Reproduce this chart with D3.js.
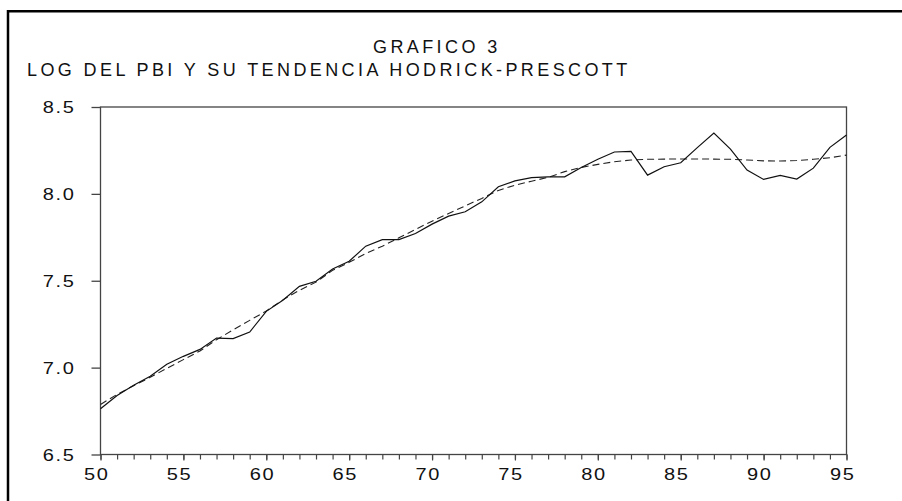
<!DOCTYPE html>
<html>
<head>
<meta charset="utf-8">
<script src="https://cdn.jsdelivr.net/npm/d3@7"></script>
<style>
  html, body { margin: 0; padding: 0; background: #fff; }
  svg { display: block; }
  text { font-family: "Liberation Sans", Arial, Helvetica, sans-serif; fill: #111; }
</style>
</head>
<body>
<svg id="chart" width="902" height="501"></svg>
<script>
// ---- data ----
const years = d3.range(1950, 1996);
const logPBI = [
  6.763, 6.840, 6.898, 6.950, 7.019, 7.065, 7.105, 7.170, 7.167, 7.205,
  7.324, 7.388, 7.468, 7.497, 7.568, 7.612, 7.699, 7.737, 7.737, 7.772,
  7.826, 7.872, 7.897, 7.954, 8.041, 8.075, 8.093, 8.098, 8.098, 8.152,
  8.199, 8.241, 8.245, 8.108, 8.156, 8.179, 8.266, 8.350, 8.258, 8.137,
  8.083, 8.106, 8.085, 8.148, 8.268, 8.339
];
const trendHP = [
  6.788, 6.846, 6.896, 6.944, 6.996, 7.046, 7.096, 7.161, 7.217, 7.272,
  7.326, 7.390, 7.445, 7.492, 7.560, 7.606, 7.657, 7.699, 7.747, 7.795,
  7.843, 7.887, 7.931, 7.974, 8.020, 8.050, 8.073, 8.095, 8.128, 8.152,
  8.170, 8.185, 8.195, 8.199, 8.200, 8.201, 8.201, 8.200, 8.199, 8.195,
  8.190, 8.189, 8.192, 8.199, 8.208, 8.223
];
const yTicks = [6.5, 7.0, 7.5, 8.0, 8.5];
const xTicksMajor = [1950, 1955, 1960, 1965, 1970, 1975, 1980, 1985, 1990, 1995];
const titleLines = ["GRAFICO 3", "LOG DEL PBI Y SU TENDENCIA HODRICK-PRESCOTT"];

// ---- layout ----
const svg = d3.select("#chart");
const L = 100.5, R = 846.5, T = 107, B = 454.5;
const SX = 1.25; // horizontal stretch of tick-label glyphs

const x = d3.scaleLinear().domain([1950, 1995]).range([L, R]);
const y = d3.scaleLinear().domain([6.5, 8.5]).range([B, T]);

// outer frame (open on right/bottom, extends beyond view)
svg.append("path")
  .attr("d", `M8,510 L8,11.3 L910,11.3`)
  .attr("fill", "none").attr("stroke", "#000").attr("stroke-width", 2.5);

// titles
svg.append("text").attr("x", 373).attr("y", 53)
  .attr("font-size", 18).attr("letter-spacing", 3.4).text(titleLines[0]);
svg.append("text").attr("x", 27).attr("y", 76)
  .attr("font-size", 18).attr("letter-spacing", 3.4).text(titleLines[1]);

// plot box
svg.append("rect").attr("x", L).attr("y", T).attr("width", R - L).attr("height", B - T)
  .attr("fill", "none").attr("stroke", "#444").attr("stroke-width", 1.3);

// y axis
const yAxis = d3.axisLeft(y).tickValues(yTicks).tickSize(9).tickPadding(0)
  .tickFormat(d3.format(".1f"));
const gy = svg.append("g").attr("transform", `translate(${L},0)`).call(yAxis);
gy.select(".domain").remove();
gy.selectAll(".tick line").attr("stroke", "#444").attr("stroke-width", 1.3);
gy.selectAll(".tick text")
  .attr("x", -25 / SX).attr("dy", "0.36em")
  .attr("transform", `scale(${SX},1)`)
  .attr("font-size", 16).attr("letter-spacing", 1.3)
  .attr("fill", "#111");

// x axis: minor ticks every year
const xAxisMinor = d3.axisBottom(x).tickValues(years).tickSize(5).tickFormat("");
const gxm = svg.append("g").attr("transform", `translate(0,${B})`).call(xAxisMinor);
gxm.select(".domain").remove();
gxm.selectAll(".tick line").attr("stroke", "#444").attr("stroke-width", 1.2);

const xAxis = d3.axisBottom(x).tickValues(xTicksMajor).tickSize(6)
  .tickFormat(d => String(d % 100).padStart(2, "0"));
const gx = svg.append("g").attr("transform", `translate(0,${B})`).call(xAxis);
gx.select(".domain").remove();
gx.selectAll(".tick line").attr("stroke", "#444").attr("stroke-width", 1.2);
gx.selectAll(".tick text")
  .attr("y", 14).attr("x", -3.5).attr("dy", "0.71em")
  .attr("transform", `scale(${SX},1)`)
  .attr("font-size", 16).attr("letter-spacing", 1.3)
  .attr("fill", "#111");

// lines
const line = d3.line().x((d, i) => x(years[i])).y(d => y(d));
svg.append("path").datum(trendHP).attr("d", line)
  .attr("fill", "none").attr("stroke", "#222").attr("stroke-width", 1.1)
  .attr("stroke-dasharray", "7,4");
svg.append("path").datum(logPBI).attr("d", line)
  .attr("fill", "none").attr("stroke", "#111").attr("stroke-width", 1.2);
</script>
</body>
</html>
